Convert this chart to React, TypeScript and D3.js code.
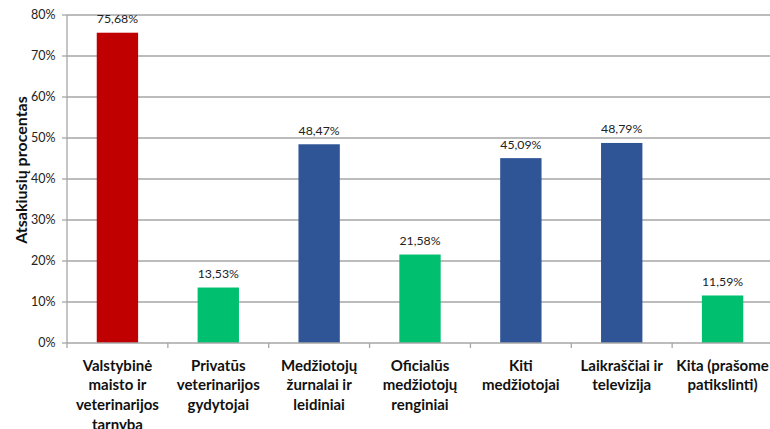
import React from "react";
import * as d3 from "d3";

const categories: string[][] = [
  ["Valstybinė", "maisto ir", "veterinarijos", "tarnyba"],
  ["Privatūs", "veterinarijos", "gydytojai"],
  ["Medžiotojų", "žurnalai ir", "leidiniai"],
  ["Oficialūs", "medžiotojų", "renginiai"],
  ["Kiti", "medžiotojai"],
  ["Laikraščiai ir", "televizija"],
  ["Kita (prašome", "patikslinti)"],
];
const values: number[] = [75.68, 13.53, 48.47, 21.58, 45.09, 48.79, 11.59];
const colors: string[] = ["#C00000", "#00C06F", "#2F5597", "#00C06F", "#2F5597", "#2F5597", "#00C06F"];
const yTicks: number[] = [0, 10, 20, 30, 40, 50, 60, 70, 80];
const yTitle = "Atsakiusių procentas";

const W = 770;
const H = 429;
const left = 67;
const right = 773;
const top = 15;
const bottom = 343;
const font = "Lato, 'Open Sans', sans-serif";

export default function App() {
  const x = d3
    .scaleBand<number>()
    .domain(values.map((_, i) => i))
    .range([left, right])
    .paddingInner(0.59)
    .paddingOuter(0.295);
  const step = (right - left) / values.length;
  const y = d3.scaleLinear().domain([0, 80]).range([bottom, top]);
  const fmt = (v: number) => v.toFixed(2).replace(".", ",") + "%";

  return (
    <svg
      width={W}
      height={H}
      style={{ position: "fixed", left: 0, top: 0, background: "#fff" }}
      fontFamily={font}
    >
      <rect x={0} y={0} width={W} height={H} fill="#fff" />
      {yTicks.map((t) => (
        <g key={t}>
          {t > 0 && (
            <line x1={left} x2={right} y1={y(t)} y2={y(t)} stroke="#A6A6A6" strokeWidth={1.3} />
          )}
          <line x1={left - 5} x2={left} y1={y(t)} y2={y(t)} stroke="#A6A6A6" strokeWidth={1.3} />
          <text x={55.5} y={y(t)} dy="0.35em" textAnchor="end" fontSize={12.5} fill="#222">
            {t}%
          </text>
        </g>
      ))}
      <line x1={left} x2={left} y1={top} y2={bottom} stroke="#A6A6A6" strokeWidth={1.3} />
      {values.map((v, i) => (
        <g key={i}>
          <rect
            x={x(i)!}
            y={y(v)}
            width={x.bandwidth()}
            height={bottom - y(v)}
            fill={colors[i]}
          />
          <text
            x={x(i)! + x.bandwidth() / 2}
            y={y(v) - 9.5}
            textAnchor="middle"
            fontSize={12.3}
            fill="#222"
          >
            {fmt(v)}
          </text>
        </g>
      ))}
      <line x1={left} x2={right} y1={bottom} y2={bottom} stroke="#A6A6A6" strokeWidth={1.3} />
      {d3.range(values.length + 1).map((k) => (
        <line
          key={k}
          x1={left + k * step}
          x2={left + k * step}
          y1={bottom}
          y2={bottom + 5}
          stroke="#A6A6A6"
          strokeWidth={1.3}
        />
      ))}
      {categories.map((lines, i) => (
        <text
          key={i}
          x={x(i)! + x.bandwidth() / 2}
          textAnchor="middle"
          fontSize={15}
          fontWeight="bold"
          fill="#111"
        >
          {lines.map((l, j) => (
            <tspan key={j} x={x(i)! + x.bandwidth() / 2} y={370.5 + j * 19.7}>
              {l}
            </tspan>
          ))}
        </text>
      ))}
      <text
        transform={`translate(27,${170}) rotate(-90)`}
        textAnchor="middle"
        fontSize={16}
        fontWeight="bold"
        fill="#111"
      >
        {yTitle}
      </text>
    </svg>
  );
}
